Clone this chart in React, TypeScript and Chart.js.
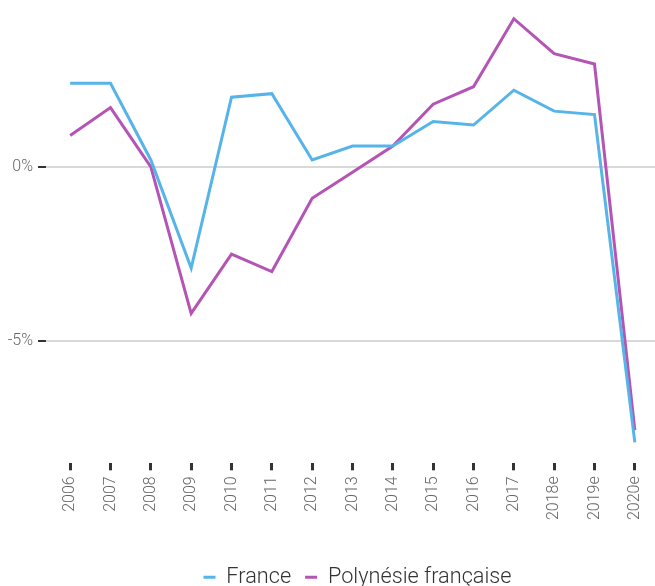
import React, { useEffect, useRef } from "react";
import { Chart, registerables } from "chart.js";

Chart.register(...registerables);

const categories = ["2006", "2007", "2008", "2009", "2010", "2011", "2012", "2013", "2014", "2015", "2016", "2017", "2018e", "2019e", "2020e"];
const france = [2.4, 2.4, 0.2, -2.9, 2.0, 2.1, 0.2, 0.6, 0.6, 1.3, 1.2, 2.2, 1.6, 1.5, -7.9];
const polynesie = [0.9, 1.7, 0.0, -4.2, -2.5, -3.0, -0.9, -0.15, 0.6, 1.8, 2.3, 4.25, 3.25, 2.95, -7.55];
const yTickValues = [-5, 0];

const FONT = "Roboto";

const yTickMarks = {
  id: "yTickMarks",
  afterLayout(chart: any) {
    if (chart.legend) {
      chart.legend.left += 5;
      chart.legend.right += 5;
    }
  },
  afterDraw(chart: any) {
    const { ctx, chartArea, scales } = chart;
    const y = scales.y;
    ctx.save();
    ctx.lineWidth = 2;
    yTickValues.forEach((v) => {
      const py = Math.round(y.getPixelForValue(v));
      ctx.strokeStyle = "#333333";
      ctx.beginPath();
      ctx.moveTo(chartArea.left - 12, py);
      ctx.lineTo(chartArea.left - 4, py);
      ctx.stroke();
      ctx.strokeStyle = "#d9d9d9";
      ctx.beginPath();
      ctx.moveTo(chartArea.left - 4, py);
      ctx.lineTo(chartArea.left, py);
      ctx.stroke();
    });
    ctx.restore();
  },
};

export default function App() {
  const ref = useRef<HTMLCanvasElement>(null);
  useEffect(() => {
    document.body.style.margin = "0";
    const chart = new Chart(ref.current!, {
      type: "line",
      data: {
        labels: categories,
        datasets: [
          {
            label: "France",
            data: france,
            borderColor: "#56b4e9",
            backgroundColor: "#56b4e9",
            borderWidth: 3,
            pointRadius: 0,
            tension: 0,
          },
          {
            label: "Polynésie française",
            data: polynesie,
            borderColor: "#b455b6",
            backgroundColor: "#b455b6",
            borderWidth: 3,
            pointRadius: 0,
            tension: 0,
          },
        ],
      },
      options: {
        animation: false,
        responsive: true,
        maintainAspectRatio: false,
        layout: { padding: { top: 10, bottom: 0, left: 0, right: 0 } },
        plugins: {
          tooltip: { enabled: false },
          legend: {
            position: "bottom",
            fullSize: false,
            labels: {
              usePointStyle: true,
              pointStyle: "line",
              pointStyleWidth: 12,
              boxWidth: 12,
              padding: 14,
              color: "#333333",
              font: { family: FONT, size: 21.7, weight: "300" as any },
            },
          },
        },
        scales: {
          x: {
            offset: true,
            afterFit: (scale: any) => {
              scale.height = 89;
              scale.paddingLeft = 0;
              scale.paddingRight = 0;
            },
            grid: {
              drawOnChartArea: false,
              drawTicks: true,
              tickLength: 7,
              tickColor: "#333333",
              tickWidth: 3,
              offset: false,
            },
            border: { display: false },
            ticks: {
              minRotation: 90,
              maxRotation: 90,
              padding: 6,
              color: "#666666",
              font: { family: FONT, size: 16, weight: "300" as any },
              autoSkip: false,
            },
          },
          y: {
            min: -8.5,
            max: 4.5,
            afterFit: (scale: any) => {
              scale.width = 50;
              scale.paddingTop = 0;
              scale.paddingBottom = 0;
            },
            afterBuildTicks: (scale: any) => {
              scale.ticks = yTickValues.map((v) => ({ value: v }));
            },
            grid: {
              color: "#d9d9d9",
              lineWidth: 2,
              drawTicks: false,
            },
            border: { display: false },
            ticks: {
              padding: 17,
              color: "#666666",
              font: { family: FONT, size: 16, weight: "300" as any },
              callback: (v: any) => `${v}%`,
            },
          },
        },
      },
      plugins: [yTickMarks],
    });
    return () => chart.destroy();
  }, []);
  return (
    <div style={{ width: 655, height: 586, overflow: "hidden" }}>
      <div style={{ width: 655, height: 598, position: "relative" }}>
        <canvas ref={ref} />
      </div>
    </div>
  );
}
